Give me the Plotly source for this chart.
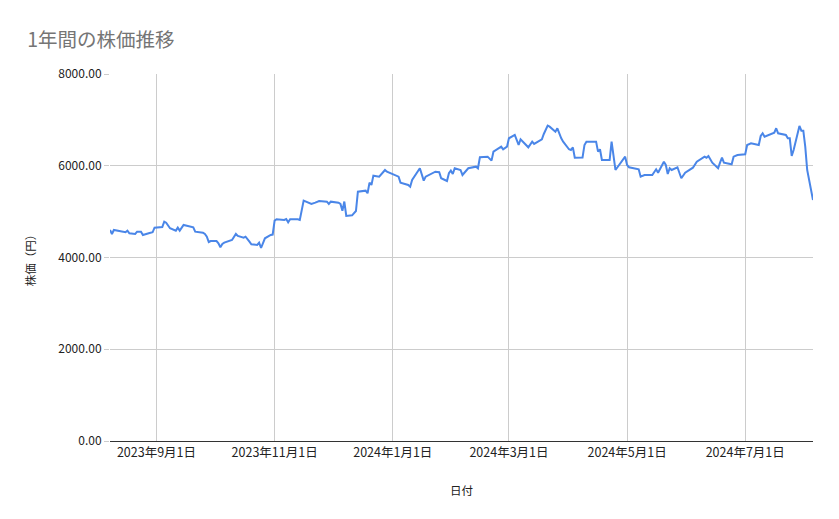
import pandas as pd
import plotly.express as px

# 日付と終値 (チャートから読み取り)
dates = [
    "2023-08-08", "2023-08-09", "2023-08-10", "2023-08-14", "2023-08-16", "2023-08-17", "2023-08-18",
    "2023-08-21", "2023-08-22", "2023-08-24", "2023-08-25", "2023-08-28", "2023-08-30", "2023-08-31",
    "2023-09-04", "2023-09-05", "2023-09-06", "2023-09-08", "2023-09-11", "2023-09-12", "2023-09-13",
    "2023-09-15", "2023-09-19", "2023-09-20", "2023-09-21", "2023-09-25", "2023-09-26", "2023-09-27",
    "2023-09-28", "2023-09-29", "2023-10-02", "2023-10-03", "2023-10-04", "2023-10-05", "2023-10-06",
    "2023-10-10", "2023-10-12", "2023-10-13", "2023-10-16", "2023-10-17", "2023-10-19", "2023-10-20",
    "2023-10-23", "2023-10-24", "2023-10-25", "2023-10-26", "2023-10-27", "2023-10-30", "2023-10-31",
    "2023-11-01", "2023-11-02", "2023-11-06", "2023-11-07", "2023-11-08", "2023-11-09", "2023-11-13",
    "2023-11-14", "2023-11-16", "2023-11-20", "2023-11-22", "2023-11-24", "2023-11-28", "2023-11-29",
    "2023-11-30", "2023-12-04", "2023-12-05", "2023-12-06", "2023-12-07", "2023-12-08", "2023-12-11",
    "2023-12-13", "2023-12-14", "2023-12-18", "2023-12-19", "2023-12-20", "2023-12-21", "2023-12-22",
    "2023-12-25", "2023-12-28", "2023-12-29", "2024-01-04", "2024-01-05", "2024-01-09", "2024-01-10",
    "2024-01-11", "2024-01-15", "2024-01-17", "2024-01-18", "2024-01-22", "2024-01-23", "2024-01-25",
    "2024-01-26", "2024-01-29", "2024-01-30", "2024-01-31", "2024-02-01", "2024-02-02", "2024-02-05",
    "2024-02-06", "2024-02-08", "2024-02-09", "2024-02-13", "2024-02-14", "2024-02-15", "2024-02-19",
    "2024-02-21", "2024-02-22", "2024-02-26", "2024-02-27", "2024-02-29", "2024-03-01", "2024-03-04",
    "2024-03-05", "2024-03-06", "2024-03-07", "2024-03-11", "2024-03-13", "2024-03-14", "2024-03-18",
    "2024-03-19", "2024-03-21", "2024-03-22", "2024-03-25", "2024-03-26", "2024-03-28", "2024-03-29",
    "2024-04-01", "2024-04-02", "2024-04-03", "2024-04-04", "2024-04-08", "2024-04-09", "2024-04-10",
    "2024-04-15", "2024-04-16", "2024-04-17", "2024-04-18", "2024-04-22", "2024-04-23", "2024-04-25",
    "2024-04-30", "2024-05-01", "2024-05-02", "2024-05-07", "2024-05-08", "2024-05-10", "2024-05-14",
    "2024-05-16", "2024-05-17", "2024-05-20", "2024-05-21", "2024-05-22", "2024-05-23", "2024-05-24",
    "2024-05-27", "2024-05-29", "2024-05-31", "2024-06-03", "2024-06-04", "2024-06-06", "2024-06-10",
    "2024-06-11", "2024-06-12", "2024-06-14", "2024-06-17", "2024-06-18", "2024-06-19", "2024-06-20",
    "2024-06-24", "2024-06-25", "2024-06-27", "2024-07-01", "2024-07-02", "2024-07-04", "2024-07-08",
    "2024-07-09", "2024-07-10", "2024-07-11", "2024-07-16", "2024-07-17", "2024-07-18", "2024-07-22",
    "2024-07-23", "2024-07-24", "2024-07-25", "2024-07-26", "2024-07-29", "2024-07-30", "2024-07-31",
    "2024-08-01", "2024-08-02", "2024-08-05",
]
prices = [
    4600, 4513, 4600, 4563, 4550, 4585, 4528,
    4513, 4563, 4563, 4491, 4528, 4550, 4650,
    4665, 4781, 4759, 4637, 4585, 4650, 4585,
    4709, 4672, 4659, 4563, 4541, 4513, 4454,
    4338, 4360, 4360, 4310, 4223, 4295, 4323,
    4382, 4513, 4469, 4432, 4454, 4345, 4288,
    4273, 4323, 4207, 4320, 4419, 4491, 4500,
    4803, 4833, 4818, 4840, 4768, 4833, 4833,
    4818, 5239, 5167, 5195, 5232, 5217, 5167,
    5217, 5195, 5167, 5020, 5220, 4905, 4920,
    5014, 5435, 5457, 5400, 5631, 5581, 5784,
    5762, 5908, 5870, 5762, 5631, 5581, 5544,
    5690, 5945, 5675, 5762, 5849, 5871, 5858,
    5727, 5668, 5836, 5893, 5821, 5945, 5908,
    5799, 5893, 5945, 5980, 5945, 6185, 6198,
    6111, 6307, 6416, 6359, 6416, 6599, 6671,
    6577, 6453, 6577, 6402, 6525, 6475, 6577,
    6693, 6874, 6852, 6743, 6817, 6599, 6525,
    6359, 6344, 6402, 6176, 6180, 6453, 6525,
    6525, 6307, 6359, 6126, 6126, 6525, 5908,
    6198, 6017, 5967, 5923, 5762, 5799, 5799,
    5923, 5849, 6089, 6017, 5821, 5945, 5908,
    5967, 5727, 5849, 5945, 5958, 6089, 6198,
    6176, 6213, 6067, 5945, 6067, 6176, 6067,
    6032, 6198, 6235, 6250, 6453, 6490, 6453,
    6649, 6708, 6634, 6722, 6817, 6708, 6671,
    6599, 6599, 6213, 6344, 6867, 6765, 6765,
    6416, 5908, 5254,
]

tick_dates = ["2023-09-01", "2023-11-01", "2024-01-01", "2024-03-01", "2024-05-01", "2024-07-01"]
tick_labels = ["2023年9月1日", "2023年11月1日", "2024年1月1日", "2024年3月1日", "2024年5月1日", "2024年7月1日"]

data = pd.DataFrame({"日付": pd.to_datetime(dates), "株価": prices})

font = "Noto Sans CJK JP"

fig = px.line(data, x="日付", y="株価")
fig.update_traces(line=dict(color="#4a86e8", width=2))
# ページ余白(8px)の分だけ内側にずらす
fig.update_layout(
    width=839, height=519,
    margin=dict(l=102, r=34, t=66, b=86),
    plot_bgcolor="white", paper_bgcolor="white",
    font=dict(family=font, size=12, color="#222222"),
    title=dict(text="1年間の株価推移", x=0.023, y=0.938, xanchor="left", yanchor="middle",
               font=dict(family=font, size=19.5, color="#757575")),
    showlegend=False,
    xaxis=dict(title=dict(text="日付", font=dict(size=11.5, color="#222222"), standoff=26),
               range=["2023-08-08", "2024-08-05"],
               tickvals=pd.to_datetime(tick_dates), ticktext=tick_labels,
               showgrid=True, gridcolor="#cccccc", gridwidth=1,
               showline=True, linecolor="#333333", linewidth=1,
               tickfont=dict(size=12.5, color="#222222"), ticks=""),
    yaxis=dict(title=dict(text="株価（円）", font=dict(size=11.5, color="#222222"), standoff=20),
               range=[0, 8000], dtick=2000, tickformat=".2f",
               showgrid=True, gridcolor="#cccccc", gridwidth=1, zeroline=False,
               ticks="outside", ticklen=5, tickcolor="#cccccc",
               tickfont=dict(size=12, color="#222222")),
)
fig.write_html("out.html")
